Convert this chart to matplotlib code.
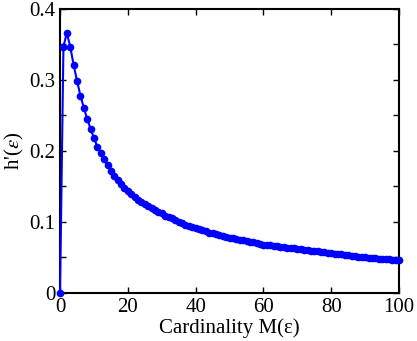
import numpy as np
import matplotlib
matplotlib.use('Agg')
import matplotlib.pyplot as plt
from matplotlib.ticker import MultipleLocator

# cardinality values and h'(eps)
card = list(range(0, 101))
hprime = [0.000, 0.347, 0.366, 0.347, 0.321, 0.299, 0.278, 0.261, 0.245, 0.231,
          0.218, 0.206, 0.197, 0.188, 0.180, 0.172, 0.165, 0.159, 0.153, 0.148,
          0.143, 0.139, 0.135, 0.131, 0.128, 0.125, 0.122, 0.119, 0.117, 0.114,
          0.112, 0.109, 0.107, 0.105, 0.102, 0.100, 0.098, 0.096, 0.094, 0.093,
          0.091, 0.090, 0.088, 0.087, 0.085, 0.084, 0.083, 0.081, 0.080, 0.079,
          0.078, 0.077, 0.076, 0.075, 0.074, 0.073, 0.072, 0.071, 0.070, 0.069,
          0.068, 0.0675, 0.067, 0.066, 0.0655, 0.065, 0.0644, 0.0638, 0.0632, 0.0626,
          0.062, 0.0614, 0.0608, 0.0602, 0.0596, 0.059, 0.0584, 0.0578, 0.0572, 0.0566,
          0.056, 0.0554, 0.0548, 0.0542, 0.0536, 0.053, 0.0524, 0.0518, 0.0512, 0.0506,
          0.050, 0.0496, 0.0492, 0.0488, 0.0484, 0.048, 0.0476, 0.0472, 0.0468, 0.0464,
          0.046]

plt.rcParams['font.family'] = ['Liberation Serif', 'DejaVu Serif']
plt.rcParams['mathtext.fontset'] = 'stix'

fig = plt.figure(figsize=(4.17, 3.41), dpi=100)
ax = fig.add_axes([0.144, 0.141, 0.813, 0.833])

ax.plot(card, hprime, color='#0000ff', lw=1.5, marker='o', ms=4.5, mec='#0000ff',
        clip_on=False, zorder=3)

ax.set_xlim(0, 100)
ax.set_ylim(0, 0.4)
ax.set_xticks([0, 20, 40, 60, 80, 100])
ax.set_yticks([0, 0.1, 0.2, 0.3, 0.4])
ax.set_yticklabels(['0', '0.1', '0.2', '0.3', '0.4'])
ax.yaxis.set_minor_locator(MultipleLocator(0.05))
ax.tick_params(which='both', direction='in', top=True, right=True, length=4, width=1,
               labelsize=15)
ax.tick_params(which='minor', length=4)
for s in ax.spines.values():
    s.set_linewidth(1.5)

ax.set_xlabel('Cardinality M(ε)', fontsize=15, labelpad=1)
ax.set_ylabel(r"h'($\varepsilon$)", fontsize=15, labelpad=2)

fig.savefig('out.png', dpi=100)
